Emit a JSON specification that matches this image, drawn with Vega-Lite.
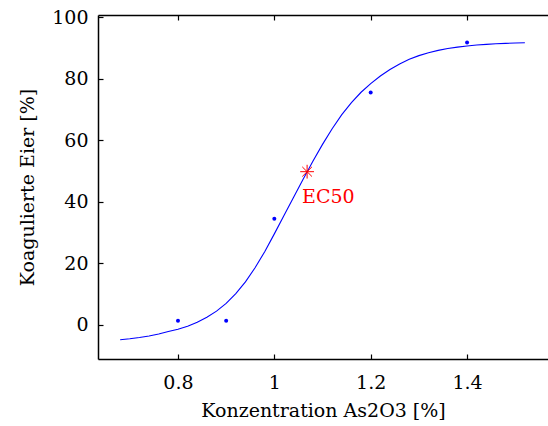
{
  "$schema": "https://vega.github.io/schema/vega-lite/v6.json",
  "autosize": {"type": "none"},
  "padding": {"left": 98, "top": 15, "right": 0, "bottom": 67},
  "width": 450,
  "height": 344,
  "background": "white",
  "config": {
    "view": {"stroke": null},
    "font": "DejaVu Serif",
    "axis": {
      "labelFont": "DejaVu Serif",
      "titleFont": "DejaVu Serif",
      "labelFontSize": 19,
      "titleFontSize": 19,
      "titleFontWeight": "normal",
      "labelColor": "black",
      "titleColor": "black",
      "domainColor": "black",
      "domainWidth": 1.5,
      "tickColor": "black",
      "tickWidth": 1.2,
      "grid": false
    }
  },
  "datasets": {
    "curve": [
      {"x": 0.68, "y": -4.81}, {"x": 0.70, "y": -4.49}, {"x": 0.72, "y": -4.09}, {"x": 0.74, "y": -3.58},
      {"x": 0.76, "y": -2.94}, {"x": 0.78, "y": -2.14}, {"x": 0.80, "y": -1.4}, {"x": 0.82, "y": -0.4},
      {"x": 0.84, "y": 0.9}, {"x": 0.86, "y": 2.5}, {"x": 0.88, "y": 4.5}, {"x": 0.90, "y": 7.0},
      {"x": 0.92, "y": 10.2}, {"x": 0.94, "y": 14.0}, {"x": 0.96, "y": 18.6}, {"x": 0.98, "y": 23.8},
      {"x": 1.00, "y": 29.6}, {"x": 1.02, "y": 35.6}, {"x": 1.04, "y": 41.53}, {"x": 1.06, "y": 47.42},
      {"x": 1.08, "y": 53.19}, {"x": 1.10, "y": 58.67}, {"x": 1.12, "y": 63.75}, {"x": 1.14, "y": 68.34},
      {"x": 1.16, "y": 72.2}, {"x": 1.18, "y": 75.6}, {"x": 1.20, "y": 78.4}, {"x": 1.22, "y": 80.9},
      {"x": 1.24, "y": 83.0}, {"x": 1.26, "y": 84.8}, {"x": 1.28, "y": 86.3}, {"x": 1.30, "y": 87.5},
      {"x": 1.32, "y": 88.45}, {"x": 1.34, "y": 89.2}, {"x": 1.36, "y": 89.8}, {"x": 1.38, "y": 90.27},
      {"x": 1.40, "y": 90.64}, {"x": 1.42, "y": 90.94}, {"x": 1.44, "y": 91.17}, {"x": 1.46, "y": 91.34},
      {"x": 1.48, "y": 91.48}, {"x": 1.50, "y": 91.59}, {"x": 1.52, "y": 91.68}
    ],
    "points": [
      {"x": 0.8, "y": 1.4}, {"x": 0.9, "y": 1.4}, {"x": 1.0, "y": 34.5}, {"x": 1.2, "y": 75.5}, {"x": 1.4, "y": 91.8}
    ],
    "ec50": [
      {"x": 1.068, "y": 49.8, "label": "EC50"}
    ]
  },
  "layer": [
    {
      "data": {"name": "curve"},
      "mark": {"type": "line", "color": "#0000ff", "strokeWidth": 1.1},
      "encoding": {
        "x": {"field": "x", "type": "quantitative",
              "scale": {"domain": [0.634, 1.568], "nice": false, "zero": false},
              "axis": {"orient": "bottom", "values": [0.8, 1, 1.2, 1.4], "format": "~g",
                       "tickSize": -5, "labelPadding": 19, "title": "Konzentration As2O3 [%]", "titlePadding": 9}},
        "y": {"field": "y", "type": "quantitative",
              "scale": {"domain": [-11.05, 100.7], "nice": false, "zero": false},
              "axis": {"orient": "left", "values": [0, 20, 40, 60, 80, 100],
                       "tickSize": -5, "labelPadding": 15, "title": "Koagulierte Eier [%]", "titlePadding": 14}}
      }
    },
    {
      "data": {"name": "points"},
      "mark": {"type": "point", "filled": true, "color": "#0000ff", "size": 16, "opacity": 1},
      "encoding": {
        "x": {"field": "x", "type": "quantitative",
              "axis": {"orient": "top", "values": [0.8, 1, 1.2, 1.4], "labels": false, "title": null, "tickSize": -5}},
        "y": {"field": "y", "type": "quantitative"}
      }
    },
    {
      "data": {"name": "ec50"},
      "mark": {"type": "point", "shape": "M-1,0L1,0M0,-1L0,1M-0.7,-0.7L0.7,0.7M-0.7,0.7L0.7,-0.7", "filled": false, "color": "#ff0000", "size": 190, "strokeWidth": 1, "opacity": 1},
      "encoding": {
        "x": {"field": "x", "type": "quantitative", "axis": null},
        "y": {"field": "y", "type": "quantitative"}
      }
    },
    {
      "data": {"name": "ec50"},
      "mark": {"type": "text", "color": "#ff0000", "font": "DejaVu Serif", "fontSize": 19, "align": "left", "baseline": "middle", "dx": -5, "dy": 25},
      "encoding": {
        "x": {"field": "x", "type": "quantitative", "axis": null},
        "y": {"field": "y", "type": "quantitative"},
        "text": {"field": "label"}
      }
    }
  ],
  "resolve": {"axis": {"x": "independent"}}
}
